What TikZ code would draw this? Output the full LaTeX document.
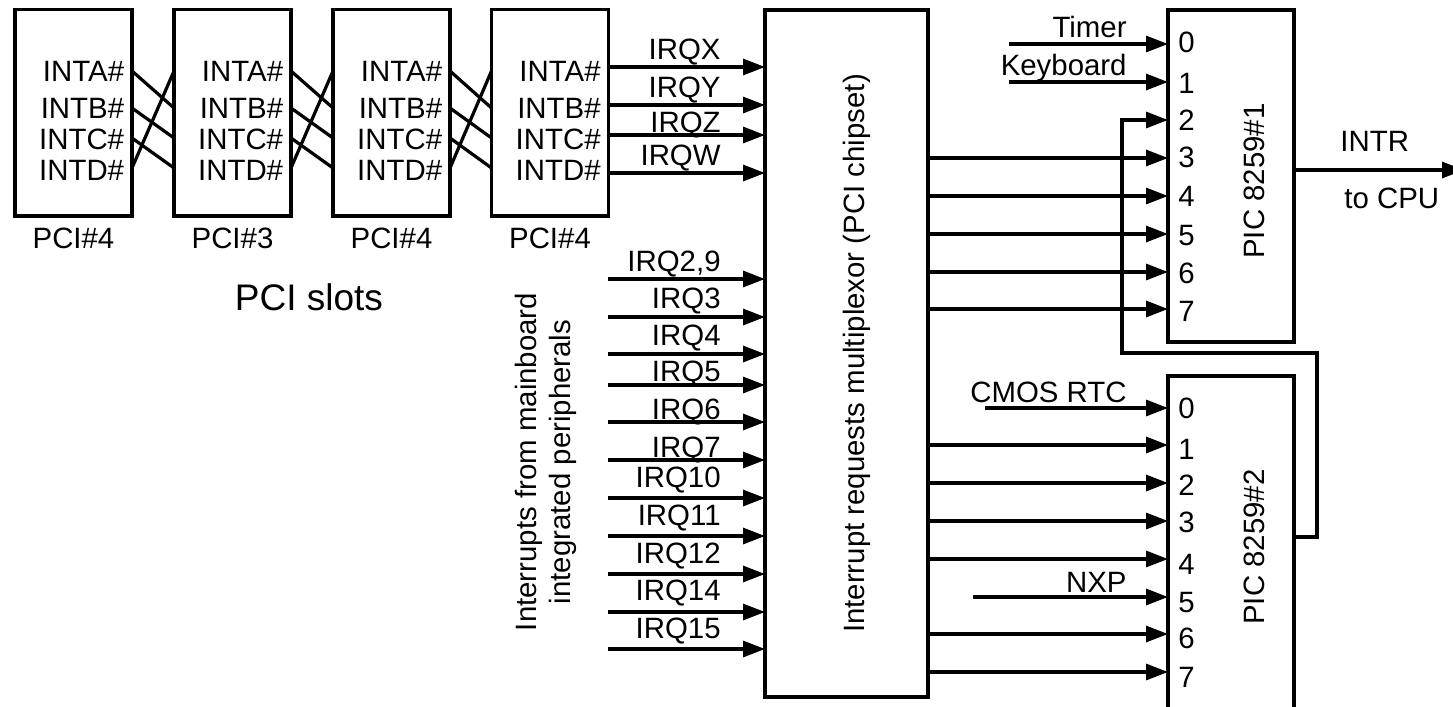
\documentclass[tikz,border=0pt]{standalone}
\usepackage{fontspec}
\setmainfont{Liberation Sans}
\usetikzlibrary{arrows.meta}
\begin{document}
\begin{tikzpicture}[x=0.5pt,y=-0.5pt,
    txt/.style={font=\fontsize{14.7}{17}\selectfont,inner sep=0pt},
    lbl/.style={txt,anchor=base east},
    pin/.style={txt,anchor=base west},
    vert/.style={txt,rotate=90,anchor=base},
    box/.style={draw,line width=1.6pt,inner sep=0pt,outer sep=0pt},
    slot/.style={box,minimum width=58.5pt,minimum height=103.25pt},
    wire/.style={line width=1.6pt},
    arr/.style={wire,-{Triangle[length=11pt,width=8pt]}}]
  \useasboundingbox (0,0) rectangle (1453,707);
  % PCI slots
  \foreach \s/\x/\t in {1/73.5/4,2/232.5/3,3/391.5/4,4/550/4}{
    \node[slot] (slot\s) at (\x,112.75) {};
    \node[txt,anchor=base] (name\s) at (\x,248) {PCI\#\t};
    \node[lbl] (inta\s) at (\x+51,81) {INTA\#};
    \node[lbl] (intb\s) at (\x+51,118) {INTB\#};
    \node[lbl] (intc\s) at (\x+51,149) {INTC\#};
    \node[lbl] (intd\s) at (\x+51,180) {INTD\#};
  }
  \node[txt,anchor=base,font=\fontsize{18.5}{22}\selectfont] (slots) at (309,310) {PCI slots};
  % Rotated interrupt lines
  \coordinate (la) at (0,71);
  \coordinate (lb) at (0,108);
  \coordinate (lc) at (0,138);
  \coordinate (ld) at (0,168);
  \foreach \s/\n in {1/2,2/3,3/4}{
    \draw[wire] (slot\s.east |- la) -- (slot\n.west |- lb);
    \draw[wire] (slot\s.east |- lb) -- (slot\n.west |- lc);
    \draw[wire] (slot\s.east |- lc) -- (slot\n.west |- ld);
    \draw[wire] (slot\s.east |- ld) -- (slot\n.west |- la);
  }
  % Multiplexor and controllers
  \node[box,minimum width=81.5pt,minimum height=343.5pt] (mux) at (846.5,353.5) {};
  \node[vert] (muxtext) at (864,353.5) {Interrupt requests multiplexor (PCI chipset)};
  \node[box,minimum width=63pt,minimum height=166pt] (pica) at (1231,176) {};
  \node[vert] (picatext) at (1264,181) {PIC 8259\#1};
  \node[box,minimum width=63pt,minimum height=166.25pt] (picb) at (1231,542.25) {};
  \node[vert] (picbtext) at (1264,547) {PIC 8259\#2};
  % PCI outputs
  \foreach \t/\y/\b in {X/67/59,Y/105/97,Z/135/132,W/173/165}{
    \coordinate (out\t) at (mux.west |- 0,\y);
    \draw[arr] (slot4.east |- out\t) -- (out\t);
    \node[lbl] (irq\t) at (721,\b) {IRQ\t};
  }
  % Mainboard interrupts
  \foreach \n/\t/\y/\b in {a/{2,9}/279/271,b/3/317/308,c/4/354/345,d/5/385/381,e/6/422/419,f/7/460/457,
      g/10/498/487,h/11/536/525,i/12/574/563,j/14/612/600,k/15/649/638}{
    \coordinate (src\n) at (608,\y);
    \draw[arr] (src\n) -- (mux.west |- src\n);
    \node[lbl] (irq\n) at (721,\b) {IRQ\t};
  }
  \node[txt,rotate=90,align=center] (periph) at (546,462) {Interrupts from mainboard\\integrated peripherals};
  % Controller #1 inputs
  \foreach \i/\y/\b in {0/44/52,1/82/93,2/120/130,3/158/167,4/196/206,5/234/245,6/272/283,7/309/321}{
    \coordinate (ina\i) at (pica.west |- 0,\y);
    \node[pin] (pina\i) at (1178,\b) {\i};
  }
  \foreach \i in {3,...,7}
    \draw[arr] (mux.east |- ina\i) -- (ina\i);
  \coordinate (timer) at (1009,44);
  \coordinate (keyb) at (1009,82);
  \draw[arr] (timer) -- (ina0);
  \draw[arr] (keyb) -- (ina1);
  \node[lbl] (timertext) at (1127,37) {Timer};
  \node[lbl] (keybtext) at (1127,75) {Keyboard};
  % Controller #2 inputs
  \foreach \i/\y/\b in {0/408/418,1/445/459,2/483/495,3/521/532,4/559/574,5/597/612,6/634/648,7/672/687}{
    \coordinate (inb\i) at (picb.west |- 0,\y);
    \node[pin] (pinb\i) at (1178,\b) {\i};
  }
  \foreach \i in {1,2,3,4,6,7}
    \draw[arr] (mux.east |- inb\i) -- (inb\i);
  \coordinate (rtc) at (985,408);
  \coordinate (nxp) at (973,597);
  \draw[arr] (rtc) -- (inb0);
  \draw[arr] (nxp) -- (inb5);
  \node[lbl] (rtctext) at (1127,402) {CMOS RTC};
  \node[lbl] (nxptext) at (1127,592) {NXP};
  % Cascade
  \coordinate (casc) at (picb.east |- 0,537);
  \draw[arr] (casc) -| (1317,353) -| (1122,120) -- (ina2);
  % To CPU
  \coordinate (cpu) at (1464,170);
  \draw[arr] (pica.east |- cpu) -- (cpu);
  \node[txt,anchor=base west] (intr) at (1340,151) {INTR};
  \node[txt,anchor=base west] (tocpu) at (1344,208) {to CPU};
\end{tikzpicture}
\end{document}
